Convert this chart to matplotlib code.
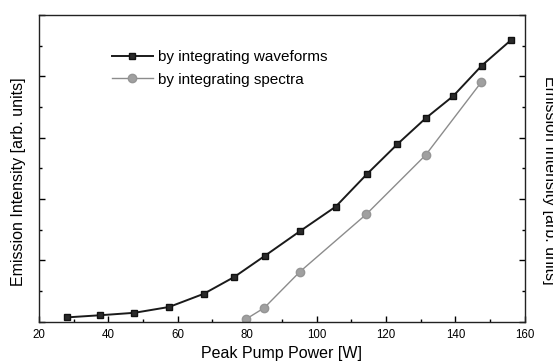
import matplotlib
matplotlib.use("Agg")
import matplotlib.pyplot as plt
from matplotlib.ticker import MultipleLocator, NullFormatter

plt.rcParams['font.family'] = ['Liberation Sans', 'DejaVu Sans']

# data
wave_x = [28, 37.6, 47.5, 57.5, 67.5, 76.3, 85.0, 95.2, 105.5, 114.4, 123.3, 131.4, 139.4, 147.6, 155.9]
wave_y = [0.14, 0.21, 0.29, 0.48, 0.91, 1.46, 2.14, 2.95, 3.75, 4.8, 5.79, 6.63, 7.36, 8.35, 9.17]
spec_x = [79.6, 84.9, 95.2, 114.3, 131.4, 147.4]
spec_y = [0.08, 0.45, 1.63, 3.5, 5.43, 7.8]

fig = plt.figure(figsize=(5.53, 3.63), dpi=100)
ax = fig.add_axes([0.0705, 0.1138, 0.8785, 0.8449])

ax.plot(wave_x, wave_y, color='#1a1a1a', lw=1.4, marker='s', ms=5,
        mfc='#2a2a2a', mec='#111111', label='by integrating waveforms')
ax.plot(spec_x, spec_y, color='#8c8c8c', lw=1.0, marker='o', ms=6,
        mfc='#a0a0a0', mec='#959595', label='by integrating spectra')

ax.set_xlim(20, 160)
ax.set_ylim(0, 10)
ax.xaxis.set_major_locator(MultipleLocator(20))
ax.xaxis.set_minor_locator(MultipleLocator(10))
ax.yaxis.set_major_locator(MultipleLocator(2))
ax.yaxis.set_minor_locator(MultipleLocator(1))
ax.yaxis.set_major_formatter(NullFormatter())
ax.tick_params(which='both', direction='in', right=True, top=False, labelsize=8.3, pad=5)
ax.tick_params(which='major', length=4.5, width=1)
ax.tick_params(which='minor', length=2.5, width=1)
for s in ax.spines.values():
    s.set_linewidth(1.0)
    s.set_color('#222222')

ax.set_xlabel('Peak Pump Power [W]', fontsize=11.5, labelpad=4)
fig.text(19 / 553, 1 - 182 / 363, 'Emission Intensity [arb. units]', rotation=90,
         fontsize=11.5, ha='center', va='center')
fig.text(549 / 553, 1 - 180 / 363, 'Emission Intensity [arb. units]', rotation=270,
         fontsize=11.5, ha='center', va='center')

ax.legend(loc='upper left', bbox_to_anchor=(0.150, 0.885), frameon=False,
          fontsize=11, handlelength=2.7, handletextpad=0.33, labelspacing=0.55,
          borderpad=0, borderaxespad=0)

fig.savefig('out.png', dpi=100)
